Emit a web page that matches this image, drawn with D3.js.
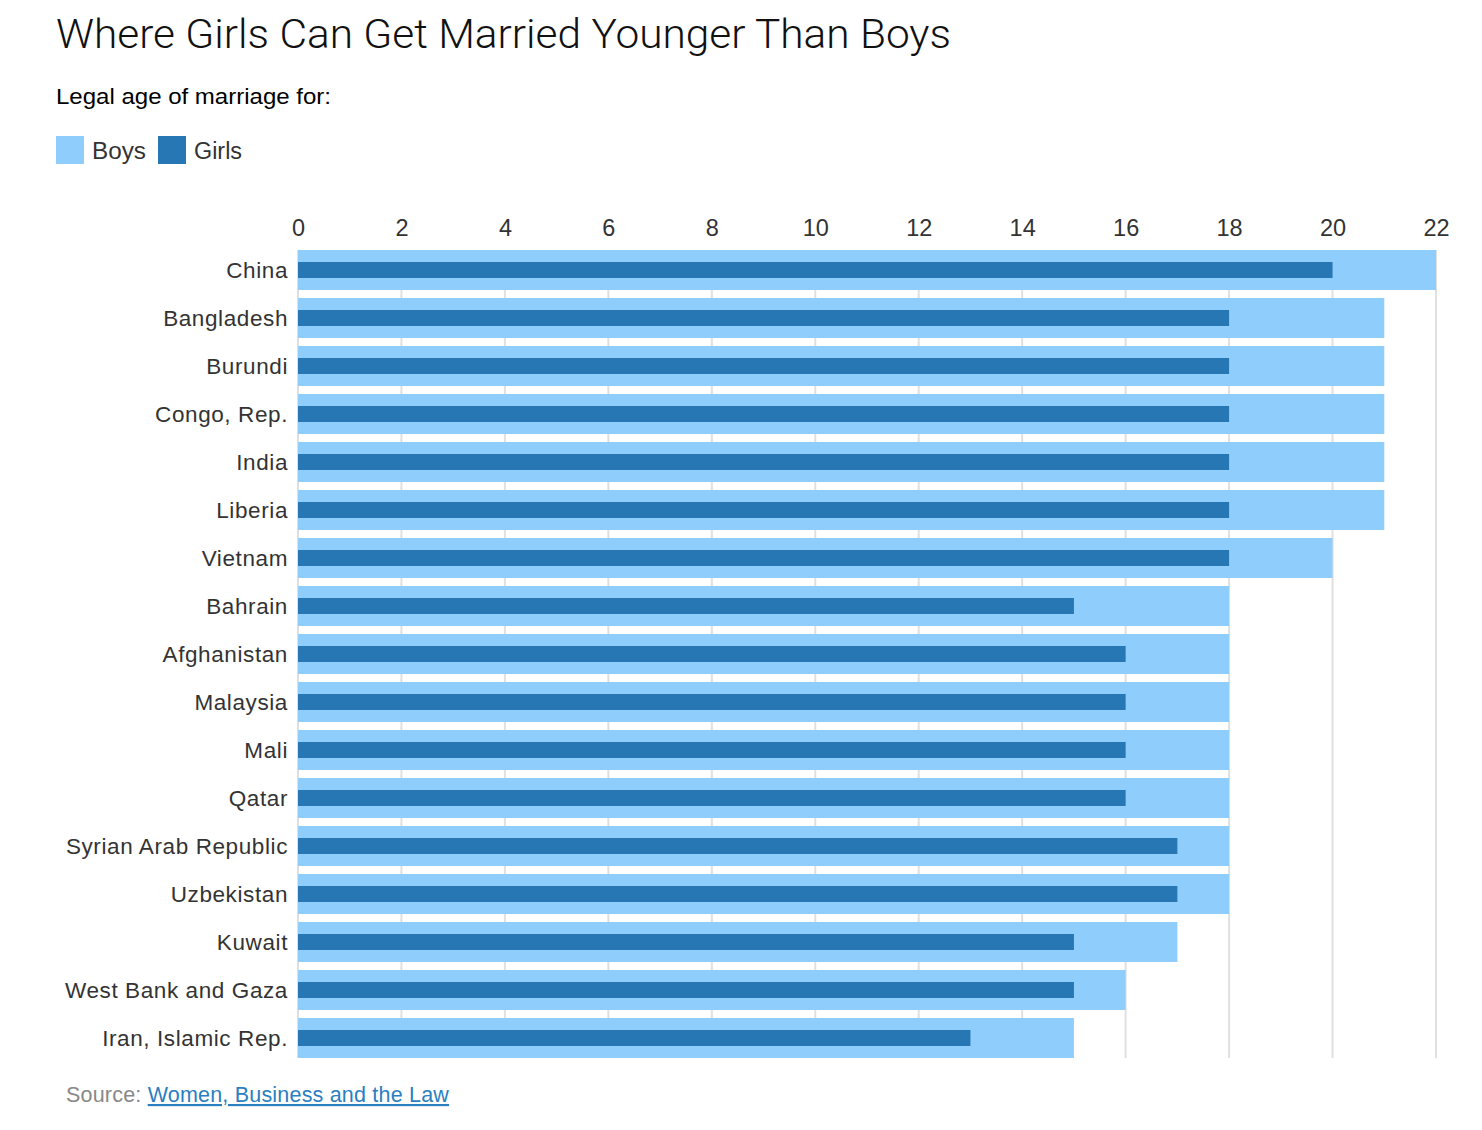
<!DOCTYPE html>
<html><head><meta charset="utf-8">
<script src="https://cdn.jsdelivr.net/npm/d3@7"></script>
<style>
body{margin:0;background:#fff;}
svg text{font-family:"Liberation Sans",Arial,Helvetica,sans-serif;}
</style></head>
<body>
<svg id="chart" width="1482" height="1130"></svg>
<script>
const countries = ["China","Bangladesh","Burundi","Congo, Rep.","India","Liberia","Vietnam","Bahrain","Afghanistan","Malaysia","Mali","Qatar","Syrian Arab Republic","Uzbekistan","Kuwait","West Bank and Gaza","Iran, Islamic Rep."];
const boys  = [22,21,21,21,21,21,20,18,18,18,18,18,18,18,17,16,15];
const girls = [20,18,18,18,18,18,18,15,16,16,16,16,17,17,15,15,13];
const ticks = [0,2,4,6,8,10,12,14,16,18,20,22];
const seriesNames = ["Boys","Girls"];
const colors = ["#8fcdfc","#2677b4"];

(function(){
const svg = d3.select("#chart");
const left = 298, right = 1436, topY = 250, step = 48;
const bottomY = topY + step*countries.length - 8;
const x = d3.scaleLinear().domain([0,22]).range([left,right]);
const yB = d3.scaleBand().domain(countries).range([topY, bottomY]).paddingInner(8/48).paddingOuter(0);

svg.append("text").attr("x",56).attr("y",48).attr("font-size",40).attr("font-weight",300)
  .style("font-family","Roboto, 'Liberation Sans', sans-serif").attr("fill","#111")
  .attr("textLength",895).attr("lengthAdjust","spacingAndGlyphs")
  .text("Where Girls Can Get Married Younger Than Boys");
svg.append("text").attr("x",56).attr("y",104).attr("font-size",22).attr("fill","#000")
  .attr("textLength",275).attr("lengthAdjust","spacingAndGlyphs").text("Legal age of marriage for:");

// legend
const lg = svg.append("g");
const lx = [56,158];
const lw = [54,48];
seriesNames.forEach((n,i)=>{
  lg.append("rect").attr("x",lx[i]).attr("y",136).attr("width",28).attr("height",28).attr("fill",colors[i]);
  lg.append("text").attr("x",lx[i]+36).attr("y",159).attr("font-size",23).attr("fill","#333")
    .attr("textLength",lw[i]).attr("lengthAdjust","spacingAndGlyphs").text(n);
});

// grid
svg.append("g").selectAll("line").data(ticks).join("line")
  .attr("x1",d=>x(d)).attr("x2",d=>x(d)).attr("y1",topY).attr("y2",bottomY)
  .attr("stroke","#e0e0e0").attr("stroke-width",2);

// axis
const ax = svg.append("g").attr("transform",`translate(0,${topY-14})`)
  .call(d3.axisTop(x).tickValues(ticks).tickSize(0).tickPadding(0));
ax.select(".domain").remove();
ax.selectAll("text").attr("font-size",23.5).attr("fill","#333").style("font-family","'Liberation Sans',Arial,sans-serif");

// bars
svg.append("g").selectAll("rect").data(countries).join("rect")
  .attr("x",x(0)).attr("y",d=>yB(d)).attr("height",yB.bandwidth())
  .attr("width",(d,i)=>x(boys[i])-x(0)).attr("fill",colors[0]);
svg.append("g").selectAll("rect").data(countries).join("rect")
  .attr("x",x(0)).attr("y",d=>yB(d)+yB.bandwidth()/2-8).attr("height",16)
  .attr("width",(d,i)=>x(girls[i])-x(0)).attr("fill",colors[1]);

// labels
svg.append("g").selectAll("text").data(countries).join("text")
  .attr("x",288).attr("y",d=>yB(d)+yB.bandwidth()/2).attr("dy","0.35em")
  .attr("text-anchor","end").attr("font-size",22.5).attr("letter-spacing",0.6).attr("fill","#333").text(d=>d);

// source
const src = svg.append("text").attr("x",66).attr("y",1102).attr("font-size",21.5).attr("letter-spacing",0.2);
src.append("tspan").attr("fill","#888").text("Source: ");
src.append("tspan").attr("fill","#2a7fc1").attr("text-decoration","underline").text("Women, Business and the Law");
})();
</script>
</body></html>
